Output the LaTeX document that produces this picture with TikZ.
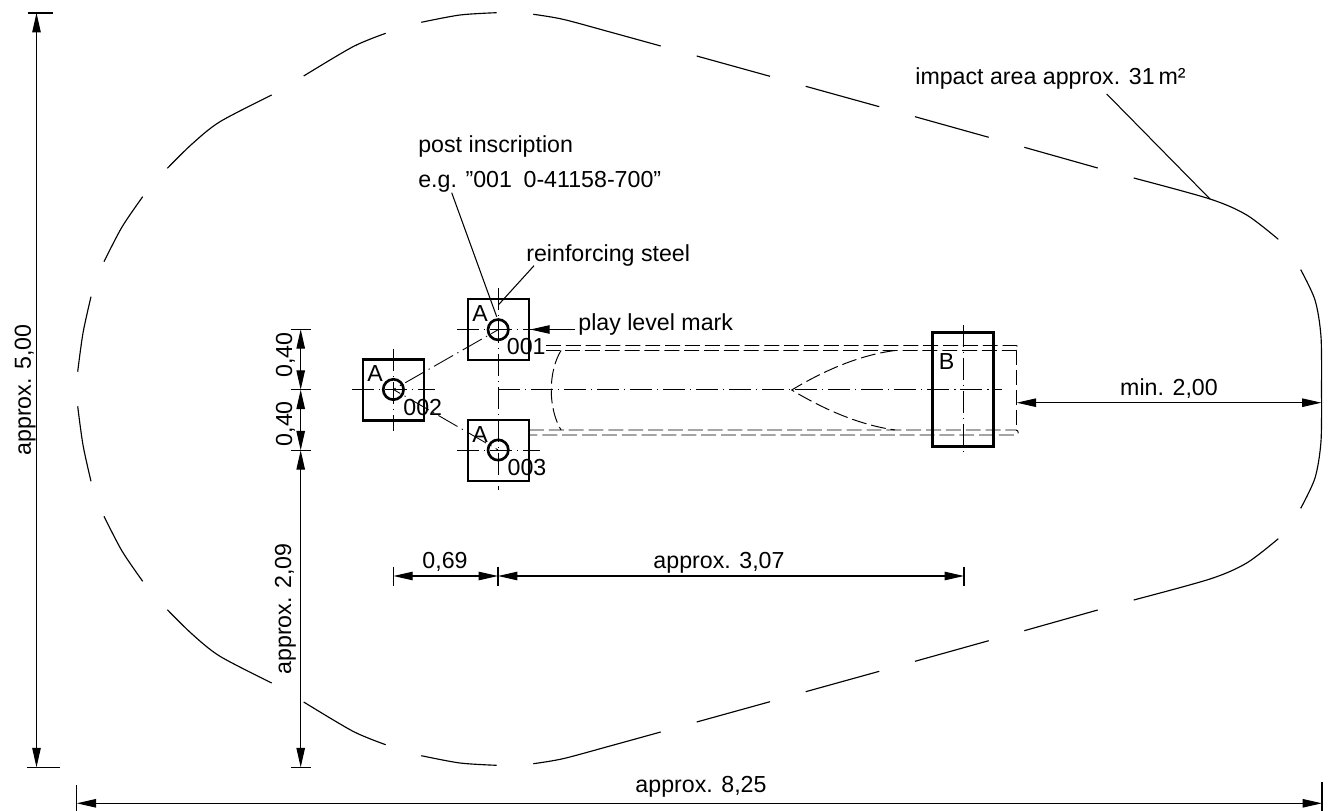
\documentclass[tikz,border=0pt]{standalone}
\usepackage{fontspec}
\setmainfont{Liberation Sans}
\usetikzlibrary{arrows.meta, positioning}
\tikzset{
  thinline/.style={line width=0.6pt},
  outline/.style={line width=0.65pt},
  thickline/.style={line width=1.5pt},
  chainline/.style={line width=0.5pt, dash pattern=on 12.5pt off 2.8pt on 0.7pt off 2.8pt},
  hiddenline/.style={line width=0.55pt, dash pattern=on 8.5pt off 2.8pt},
  dimline/.style={thinline, {Triangle[length=11pt,width=4.8pt]}-{Triangle[length=11pt,width=4.8pt]}},
  leadarrow/.style={thinline, -{Triangle[length=11pt,width=4.8pt]}},
  plate/.style={draw, thickline, minimum size=34.7pt, inner sep=0pt},
  hole/.style={draw, thickline, circle, minimum size=11.6pt, inner sep=0pt},
  drawtext/.style={inner sep=0pt, anchor=base, font=\fontsize{13.2}{16}\selectfont},
  lefttext/.style={drawtext, anchor=base west},
  uptext/.style={drawtext, rotate=90}
}
\newcommand{\halfoutline}{
  \draw[outline] plot[smooth] coordinates {(77.7,371.7) (83,333) (91,296.7)};
  \draw[outline] plot[smooth] coordinates {(104,261.7) (122,227) (142.7,196.7)};
  \draw[outline] plot[smooth] coordinates {(167.3,168.3) (192,144) (220,121.7) (271.7,95)};
  \draw[outline] plot[smooth] coordinates {(303.7,76) (353,46.7) (385.7,33.3)};
  \draw[outline] plot[smooth] coordinates {(421.3,22.3) (460,15) (496.7,12.7)};
  \draw[outline] plot[smooth] coordinates {(533.3,14.3) (563,19.3) (610,32) (660.7,46)};
  \draw[outline] (696.7,56) -- (770,76.3);
  \draw[outline] (805.7,86.3) -- (879.3,106.7);
  \draw[outline] (915,116.7) -- (988.7,137.3);
  \draw[outline] (1024.3,147.3) -- (1097.7,168);
  \draw[outline] plot[smooth] coordinates {(1133.7,178) (1210,199) (1246.7,215) (1278.3,239.3)};
  \draw[outline] plot[smooth] coordinates {(1300.7,269.7) (1315,300) (1321,336.7) (1321.5,389)};
}
\begin{document}
\begin{tikzpicture}[x=0.02cm,y=-0.02cm]
\useasboundingbox (0,0) rectangle (1340,811);
% impact area
\halfoutline
\begin{scope}[shift={(0,778)},yscale=-1]
\halfoutline
\end{scope}
% posts
\node[plate] (plate001) at (498.5,329.5) {};
\node[plate] (plate002) at (393.5,390) {};
\node[plate] (plate003) at (498.5,450.5) {};
\node[hole] (hole001) at (498.2,329.7) {};
\node[hole] (hole002) at (393.4,389.5) {};
\node[hole] (hole003) at (498.2,450) {};
\node[plate, minimum width=34.7pt, minimum height=64.8pt] (plateB) at (963,389.7) {};
% centre lines
\coordinate (axisL) at (498,389.7);
\coordinate (axisR) at (1002,389.7);
\coordinate (vtop) at (498,288);
\coordinate (vbot) at (498,490);
\draw[chainline] (axisL) -- (axisR);
\draw[chainline] (vtop) -- (vbot);
\draw[chainline] (393.4,349) -- (393.4,431);
\draw[chainline] (352,389.5) -- (435,389.5);
\draw[chainline] (457,329.5) -- (540,329.5);
\draw[chainline] (457,450.5) -- (540,450.5);
\draw[chainline] (963,325) -- (963,454.5);
\draw[chainline, dash phase=8pt] (hole001.center) -- (hole002.center);
\draw[chainline, dash phase=8pt] (hole002.center) -- (hole003.center);
% beam
\coordinate (railA) at (546,345.5);
\coordinate (railB) at (546,350.5);
\coordinate (railC) at (529,430);
\coordinate (railD) at (529,435);
\draw[hiddenline] (railA) -- (1016,345.5) to[out=0,in=0,looseness=1.5] (1016,350.5) -- (railB);
\draw[hiddenline] (railC) -- (1016,430) to[out=0,in=0,looseness=1.5] (1016,435) -- (railD);
\draw[hiddenline] (1016.7,350.5) -- (1016.7,430);
\draw[hiddenline] (561,350.5) .. controls (548,372) and (548,408) .. (561,430);
\draw[hiddenline] (895,350.5) .. controls (860,355) and (825,370) .. (791.7,390) .. controls (825,410) and (860,425) .. (895,430);
% dimensions
\coordinate (d1a) at (36.5,13);
\coordinate (d1b) at (36.5,767.3);
\draw[dimline] (d1a) -- (d1b);
\draw[thinline] (d1a) ++(-9,0) -- ++(25,0);
\draw[thinline] (d1b) ++(-10,0) -- ++(33,0);
\coordinate (d2a) at (300.7,329.3);
\coordinate (d2b) at (300.7,389.7);
\coordinate (d2c) at (300.7,450.3);
\coordinate (d2d) at (300.7,767.3);
\draw[dimline] (d2a) -- (d2b);
\draw[dimline] (d2b) -- (d2c);
\draw[dimline] (d2c) -- (d2d);
\foreach \p in {d2a,d2b,d2c,d2d} {
  \draw[thinline] (\p) ++(-10,0) -- ++(20,0);
}
\coordinate (d3a) at (393.4,576);
\coordinate (d3b) at (498,576);
\coordinate (d3c) at (964,576);
\draw[dimline] (d3a) -- (d3b);
\draw[dimline] (d3b) -- (d3c);
\foreach \p in {d3a,d3b,d3c} {
  \draw[thinline] (\p) ++(0,-9.5) -- ++(0,19);
}
\coordinate (d4a) at (1016.7,402.7);
\coordinate (d4b) at (1321.5,402.7);
\draw[dimline] (d4a) -- (d4b);
\coordinate (d5a) at (76.7,803.3);
\coordinate (d5b) at (1322,803.3);
\draw[dimline] (d5a) -- (d5b);
\draw[thinline] (d5a) ++(0,-18) -- ++(0,26);
\draw[thinline] (d5b) ++(0,-21) -- ++(0,29);
% leaders
\node[lefttext] (impactlabel) at (915,85) {impact area approx. 31\,m²};
\node[lefttext] (postlabel) at (418,153) {post inscription};
\node[lefttext] (eglabel) at (418,188) {e.g. "001\enspace 0-41158-700"};
\node[lefttext] (steellabel) at (526,261.7) {reinforcing steel};
\node[lefttext] (playlabel) at (578,330) {play level mark};
\coordinate (impactfoot) at (1106.7,94);
\coordinate (impacttip) at (1210,199);
\coordinate (postfoot) at (451.7,192.7);
\coordinate (posttip) at (496.7,316.7);
\coordinate (steelfoot) at (534,265.7);
\coordinate (steeltip) at (498.3,305);
\coordinate (playfoot) at (575,329.5);
\draw[thinline] (impactfoot) -- (impacttip);
\draw[thinline] (postfoot) -- (posttip);
\draw[thinline] (steelfoot) -- (steeltip);
\draw[leadarrow] (playfoot) -- (plate001.east);
% texts
\node[drawtext] (labA1) at (480,321.7) {A};
\node[drawtext] (labA2) at (375,381.7) {A};
\node[drawtext] (labA3) at (480,442.3) {A};
\node[drawtext] (labB) at (946.7,369.3) {B};
\node[drawtext] (num001) at (526.3,354) {001};
\node[drawtext] (num002) at (422.8,415) {002};
\node[drawtext] (num003) at (527,475.7) {003};
\node[uptext] (dim500) at (31,390) {approx. 5,00};
\node[uptext] (dim040a) at (292,355) {0,40};
\node[uptext] (dim040b) at (292,423.7) {0,40};
\node[uptext] (dim209) at (291,609) {approx. 2,09};
\node[drawtext] (dim069) at (445,568) {0,69};
\node[drawtext] (dim307) at (719,568) {approx. 3,07};
\node[drawtext] (dim200) at (1169,395) {min. 2,00};
\node[drawtext] (dim825) at (701,792.7) {approx. 8,25};
\end{tikzpicture}
\end{document}
